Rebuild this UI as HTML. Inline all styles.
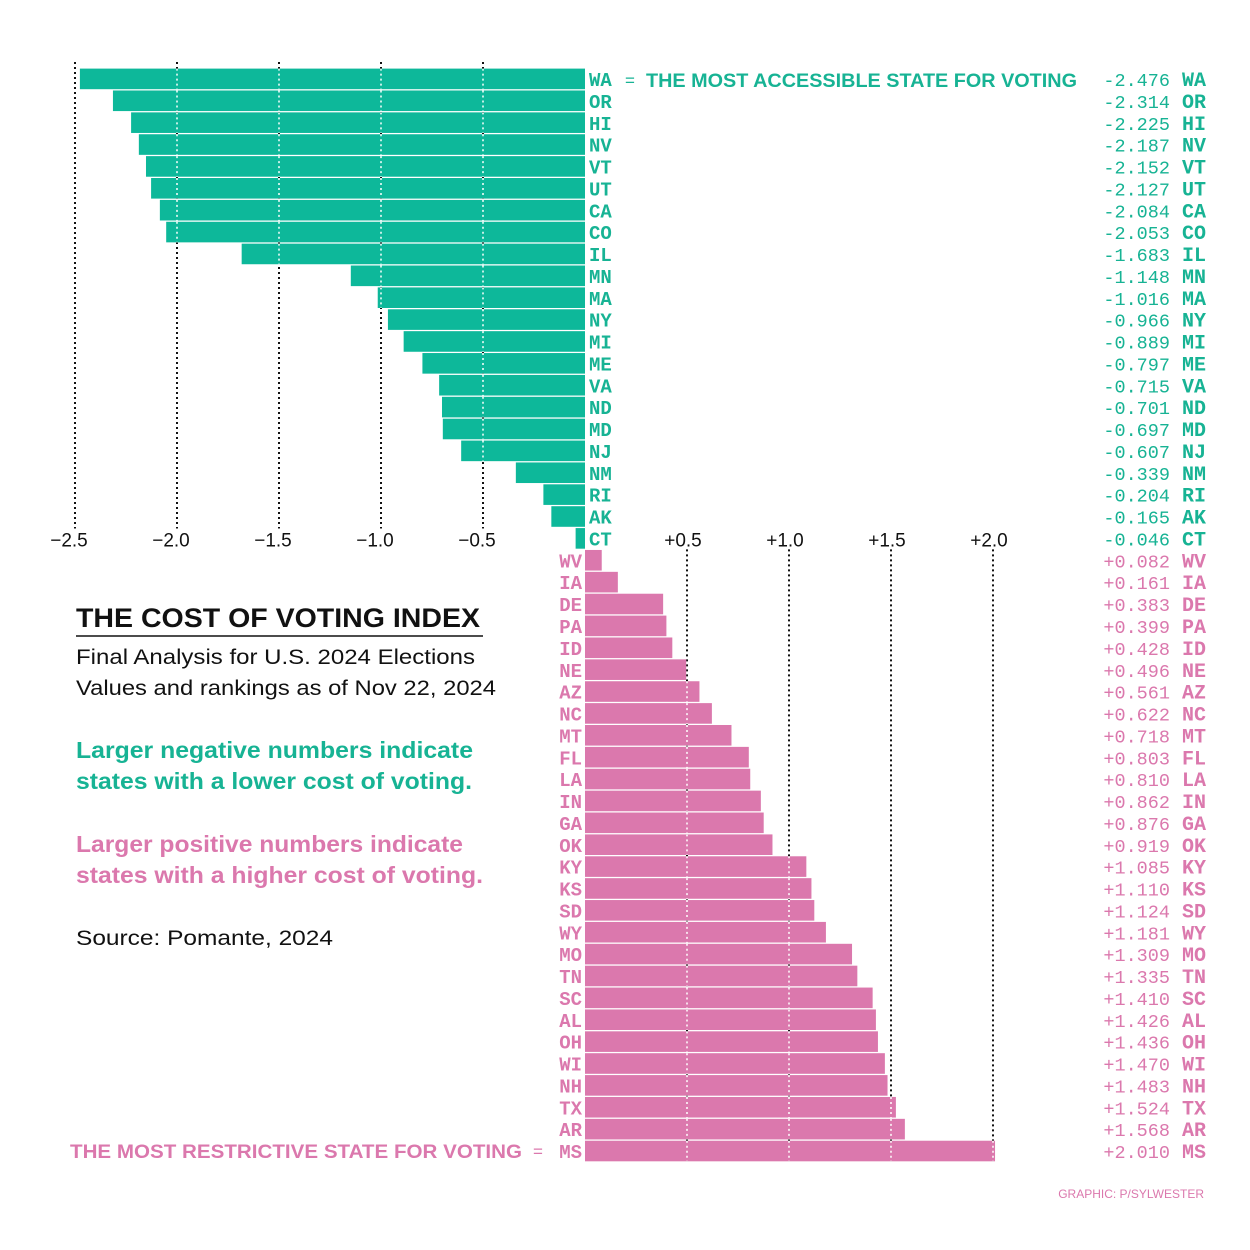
<!DOCTYPE html>
<html><head><meta charset="utf-8"><style>
body{margin:0;background:#fff}
svg{display:block}
.mono{font-family:"Liberation Mono",monospace}
.sans{font-family:"Liberation Sans",sans-serif}
</style></head><body>
<svg id="chart" width="1250" height="1250" viewBox="0 0 1250 1250" xmlns="http://www.w3.org/2000/svg">
<g id="grid"></g><g id="bars"></g><g id="overgrid"></g><g id="labels"></g>
<g id="ticks"></g>
<text x="646" y="87" class="sans" font-weight="bold" font-size="19" fill="#17b394" textLength="431" lengthAdjust="spacingAndGlyphs">THE MOST ACCESSIBLE STATE FOR VOTING</text>
<text x="625" y="86" class="sans" font-size="17" fill="#17b394">=</text>
<text x="70" y="1158" class="sans" font-weight="bold" font-size="19" fill="#db78ad" textLength="452" lengthAdjust="spacingAndGlyphs">THE MOST RESTRICTIVE STATE FOR VOTING</text>
<text x="533" y="1157" class="sans" font-size="17" fill="#db78ad">=</text>
<text x="76" y="627" class="sans" font-weight="bold" font-size="27" fill="#111" textLength="404" lengthAdjust="spacingAndGlyphs">THE COST OF VOTING INDEX</text>
<line x1="76" y1="636" x2="483" y2="636" stroke="#111" stroke-width="1.5"/>
<text x="76" y="664" class="sans" font-size="21" fill="#111" textLength="399" lengthAdjust="spacingAndGlyphs">Final Analysis for U.S. 2024 Elections</text>
<text x="76" y="695" class="sans" font-size="21" fill="#111" textLength="420" lengthAdjust="spacingAndGlyphs">Values and rankings as of Nov 22, 2024</text>
<text x="76" y="758" class="sans" font-weight="bold" font-size="23" fill="#17b394" textLength="397" lengthAdjust="spacingAndGlyphs">Larger negative numbers indicate</text>
<text x="76" y="789" class="sans" font-weight="bold" font-size="23" fill="#17b394" textLength="396" lengthAdjust="spacingAndGlyphs">states with a lower cost of voting.</text>
<text x="76" y="852" class="sans" font-weight="bold" font-size="23" fill="#db78ad" textLength="387" lengthAdjust="spacingAndGlyphs">Larger positive numbers indicate</text>
<text x="76" y="883" class="sans" font-weight="bold" font-size="23" fill="#db78ad" textLength="407" lengthAdjust="spacingAndGlyphs">states with a higher cost of voting.</text>
<text x="76" y="945" class="sans" font-size="21" fill="#111" textLength="257" lengthAdjust="spacingAndGlyphs">Source: Pomante, 2024</text>
<text x="1204" y="1198" text-anchor="end" class="sans" font-size="12" fill="#db78ad">GRAPHIC: P/SYLWESTER</text>
</svg>
<script>
const states = ["WA","OR","HI","NV","VT","UT","CA","CO","IL","MN","MA","NY","MI","ME","VA","ND","MD","NJ","NM","RI","AK","CT","WV","IA","DE","PA","ID","NE","AZ","NC","MT","FL","LA","IN","GA","OK","KY","KS","SD","WY","MO","TN","SC","AL","OH","WI","NH","TX","AR","MS"];
const values = [-2.476,-2.314,-2.225,-2.187,-2.152,-2.127,-2.084,-2.053,-1.683,-1.148,-1.016,-0.966,-0.889,-0.797,-0.715,-0.701,-0.697,-0.607,-0.339,-0.204,-0.165,-0.046,0.082,0.161,0.383,0.399,0.428,0.496,0.561,0.622,0.718,0.803,0.810,0.862,0.876,0.919,1.085,1.110,1.124,1.181,1.309,1.335,1.410,1.426,1.436,1.470,1.483,1.524,1.568,2.010];
const negTicks = [-2.5,-2.0,-1.5,-1.0,-0.5];
const posTicks = [0.5,1.0,1.5,2.0];
const negTickLabels = ["\u22122.5","\u22122.0","\u22121.5","\u22121.0","\u22120.5"];
const posTickLabels = ["+0.5","+1.0","+1.5","+2.0"];

const NS="http://www.w3.org/2000/svg";
const TEAL="#0db89a", PINK="#db78ad", TEALT="#17b394";
const x = v => 585 + v*204;
const yc = i => 79 + i*21.88;
function mk(parent,tag,attrs,text){const e=document.createElementNS(NS,tag);for(const k in attrs)e.setAttribute(k,attrs[k]);if(text!==undefined)e.textContent=text;document.getElementById(parent).appendChild(e);return e;}
const nNeg = values.filter(v=>v<0).length;
const gTop = yc(0)-17, gNegBot = yc(nNeg-1)-10, gPosTop = yc(nNeg)-11, gBot = yc(values.length-1)+12;
negTicks.forEach((t,k)=>{
  const l=mk('grid','line',{x1:x(t),x2:x(t),y1:gTop,y2:gNegBot,stroke:'#111','stroke-width':2,'stroke-dasharray':'2 3'});
  
  
  const tx=mk('ticks','text',{x:x(t)-6,y:yc(nNeg-1)+8,'text-anchor':'middle','font-size':19,fill:'#111','font-family':'Liberation Sans, sans-serif'},negTickLabels[k]);
  
  
});
posTicks.forEach((t,k)=>{
  const l=mk('grid','line',{x1:x(t),x2:x(t),y1:gPosTop,y2:gBot,stroke:'#111','stroke-width':2,'stroke-dasharray':'2 3'});
  
  
  const tx=mk('ticks','text',{x:x(t)-4,y:yc(nNeg-1)+8,'text-anchor':'middle','font-size':19,fill:'#111','font-family':'Liberation Sans, sans-serif'},posTickLabels[k]);
  
  
});
values.forEach((v,i)=>{
  const neg=v<0, c=neg?TEAL:PINK, tc=neg?TEALT:PINK;
  const x0=Math.min(x(0),x(v)), w=Math.abs(x(v)-x(0));
  const b=mk('bars','rect',{x:x0,y:yc(i)-10.4,width:w,height:20.6,fill:c});
  
  
  [...negTicks,...posTicks].forEach(t=>{
    if((t<0&&v<t)||(t>0&&v>t)){
      const o=mk('overgrid','line',{x1:x(t),x2:x(t),y1:yc(i)-10.4,y2:yc(i)+10.2,stroke:'#fff','stroke-width':1.5,'stroke-dasharray':'2 3'});
      
      
    }
  });
  const lab=mk('labels','text',{x:neg?589:582,y:yc(i)+7,'text-anchor':neg?'start':'end','font-size':19,'font-weight':'bold',fill:tc,'font-family':'Liberation Mono, monospace'},states[i]);
  
  
  const s=(v<0?'-':'+')+Math.abs(v).toFixed(3);
  const val=mk('labels','text',{x:1170,y:yc(i)+7,'text-anchor':'end','font-size':18.5,fill:tc,'font-family':'Liberation Mono, monospace'},s);
  
  
  const code=mk('labels','text',{x:1182,y:yc(i)+7,'font-size':20,'font-weight':'bold',fill:tc,'font-family':'Liberation Mono, monospace'},states[i]);
  
  
});
</script>
</body></html>
